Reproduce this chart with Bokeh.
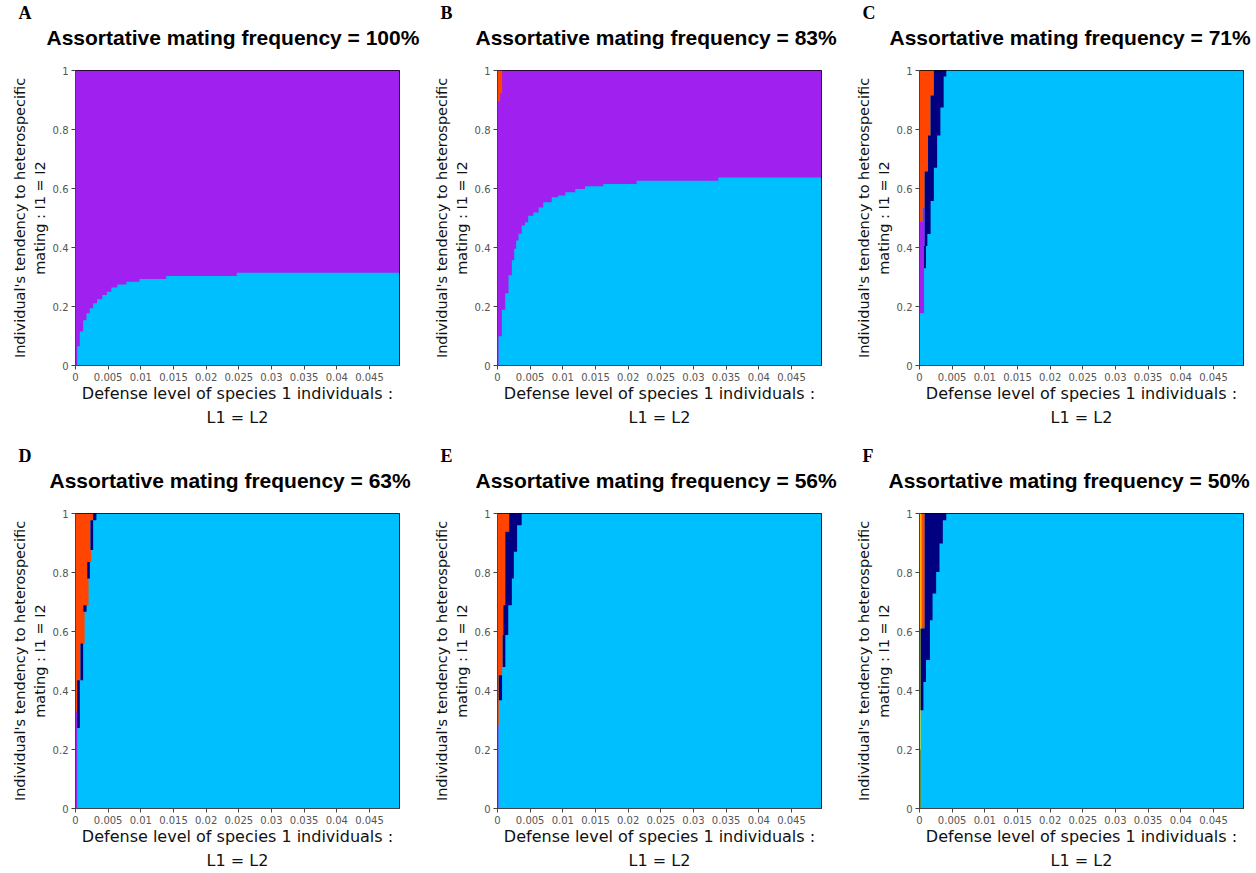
from bokeh.plotting import figure
from bokeh.models import Range1d, FixedTicker, Title
from bokeh.layouts import column, row
from bokeh.embed import file_html
from bokeh.resources import INLINE

# ---------------- data ----------------
X_MAX = 0.0496
X_TICKS = [0, 0.005, 0.01, 0.015, 0.02, 0.025, 0.03, 0.035, 0.04, 0.045]
X_TICK_LABELS = ["0", "0.005", "0.01", "0.015", "0.02", "0.025", "0.03", "0.035", "0.04", "0.045"]
Y_TICKS = [0, 0.2, 0.4, 0.6, 0.8, 1]
Y_TICK_LABELS = ["0", "0.2", "0.4", "0.6", "0.8", "1"]

LETTERS = ["A", "B", "C", "D", "E", "F"]
FREQS = [100, 83, 71, 63, 56, 50]

COLORS = {
    "blue": "#00BFFF", "purple": "#A020F0", "orange": "#FF4500", "navy": "#000080",
    "gold": "#FFB000", "olive": "#8C9A18", "yellowgreen": "#B0F040", "darkgreen": "#3C6E14",
}

# Panel A (column based): column x edges, top of the blue (lower) region per column
A_x = [0, 0.00026, 0.00066, 0.00117, 0.00168, 0.00219, 0.0027, 0.0033, 0.0041, 0.0048,
       0.0055, 0.0064, 0.0078, 0.0098, 0.0139, 0.0247, 0.0496]
A_blue_top = [0, 0.065, 0.115, 0.153, 0.177, 0.194, 0.211, 0.225, 0.239, 0.25,
              0.264, 0.275, 0.284, 0.293, 0.303, 0.314]

# Panel B (column based)
B_x = [0, 0.00016, 0.00067, 0.00118, 0.00169, 0.0022, 0.00256, 0.00286, 0.00322, 0.0037,
       0.0042, 0.0047, 0.0055, 0.0063, 0.0070, 0.0083, 0.0093, 0.0104, 0.0119, 0.0134,
       0.0162, 0.0213, 0.0338, 0.0496]
B_blue_top = [0, 0.099, 0.189, 0.245, 0.306, 0.357, 0.396, 0.424, 0.447, 0.475,
              0.486, 0.508, 0.519, 0.536, 0.553, 0.570, 0.576, 0.587, 0.598, 0.608,
              0.615, 0.626, 0.637]
B_orange_x = [0, 0.0004, 0.00072]
B_orange_bottom = [0.896, 0.924]

# Panels C-F (row based): y band edges, cumulative right edge of each state
C_y = [0, 0.177, 0.33, 0.405, 0.446, 0.487, 0.535, 0.558, 0.658, 0.67, 0.78, 0.875, 0.915, 0.98, 1.0]
C_orange_r = [0, 0, 0, 0, 0, 0.0005, 0.0008, 0.0008, 0.0013, 0.0013, 0.0017, 0.0017, 0.0022, 0.0022]
C_purple_r = [0, 0.0007, 0.0007, 0.0008, 0.0008, 0.0008, 0.0008, 0.0008, 0.0013, 0.0013, 0.0017, 0.0017, 0.0022, 0.0022]
C_navy_r = [0, 0.0007, 0.001, 0.0012, 0.0017, 0.0017, 0.0017, 0.0022, 0.0022, 0.0027, 0.0032, 0.0037, 0.0037, 0.0041]

D_y = [0, 0.273, 0.328, 0.435, 0.559, 0.667, 0.689, 0.78, 0.836, 0.876, 0.977, 1.0]
D_orange_r = [0, 0, 0.00026, 0.00077, 0.0014, 0.0012, 0.002, 0.0018, 0.0024, 0.0023, 0.0027]
D_purple_r = [0.00026, 0.00026, 0.00026, 0.00077, 0.0014, 0.0012, 0.002, 0.0018, 0.0024, 0.0023, 0.0027]
D_navy_r = [0.00026, 0.00066, 0.00066, 0.00117, 0.0014, 0.0017, 0.002, 0.0022, 0.0024, 0.0027, 0.0032]

E_y = [0, 0.282, 0.367, 0.452, 0.48, 0.588, 0.689, 0.78, 0.87, 0.938, 0.96, 1.0]
E_orange_r = [0, 0.0002, 0.0002, 0.0007, 0.0008, 0.0009, 0.0012, 0.0012, 0.0012, 0.0018, 0.0018]
E_purple_r = [0.00015, 0.0002, 0.0002, 0.0007, 0.0008, 0.0009, 0.0012, 0.0012, 0.0012, 0.0018, 0.0018]
E_navy_r = [0.00015, 0.0002, 0.0007, 0.0007, 0.0012, 0.00165, 0.0022, 0.0025, 0.003, 0.003, 0.0037]

F_y = [0, 0.2, 0.333, 0.429, 0.503, 0.61, 0.638, 0.729, 0.802, 0.898, 0.977, 1.0]
F_strip_r = [0.00015, 0.00015, 0.00015, 0.00015, 0.00015, 0.0003, 0.0003, 0.0003, 0.0003, 0.0003, 0.0003]
F_strip_state = ["darkgreen", "yellowgreen", "olive", "olive", "olive", "gold", "gold", "gold", "gold", "gold", "gold"]
F_orange_r = [0.00015, 0.00015, 0.00015, 0.00015, 0.00015, 0.0008, 0.0008, 0.0008, 0.0008, 0.0008, 0.0008]
F_purple_r = [0.00015, 0.00015, 0.00015, 0.00015, 0.00015, 0.0008, 0.0008, 0.0008, 0.0008, 0.0008, 0.0008]
F_navy_r = [0.00015, 0.00015, 0.0006, 0.001, 0.0016, 0.0016, 0.002, 0.00255, 0.00306, 0.00357, 0.0041]

X_LABEL = "Defense level of species 1 individuals :\nL1 = L2"
Y_LABEL = "Individual's tendency to heterospecific\nmating : I1 = I2"

# ---------------- layout constants ----------------
BORDER_L, BORDER_T = 75, 69


# ---------------- helpers ----------------
def row_polygon(y, left, right):
    xs, ys = [], []
    for i in range(len(right)):
        xs += [right[i], right[i]]
        ys += [y[i], y[i + 1]]
    for i in reversed(range(len(right))):
        xs += [left[i], left[i]]
        ys += [y[i + 1], y[i]]
    return xs, ys


def col_polygon(x, bottom, top):
    xs, ys = [], []
    for i in range(len(top)):
        xs += [x[i], x[i + 1]]
        ys += [top[i], top[i]]
    for i in reversed(range(len(top))):
        xs += [x[i + 1], x[i]]
        ys += [bottom[i], bottom[i]]
    return xs, ys


def draw_columns(p, x, blue_top):
    n = len(blue_top)
    xs, ys = col_polygon(x, [0] * n, blue_top)
    p.patch(xs, ys, fill_color=COLORS["blue"], line_color=None)
    xs, ys = col_polygon(x, blue_top, [1] * n)
    p.patch(xs, ys, fill_color=COLORS["purple"], line_color=None)


def draw_rows(p, y, layers):
    n = len(y) - 1
    last = layers[-1][0]
    xs, ys = row_polygon(y, last, [X_MAX] * n)
    p.patch(xs, ys, fill_color=COLORS["blue"], line_color=None)
    left = [0] * n
    for right, cname in layers:
        xs, ys = row_polygon(y, left, right)
        p.patch(xs, ys, fill_color=COLORS[cname], line_color=None)
        left = right


def make_fig(i, width, height, b_bottom, b_right, title_offset):
    p = figure(width=width, height=height,
               x_range=Range1d(0, X_MAX), y_range=Range1d(0, 1),
               output_backend="svg", toolbar_location=None,
               min_border_left=BORDER_L, min_border_right=b_right,
               min_border_top=BORDER_T, min_border_bottom=b_bottom)
    p.background_fill_color = COLORS["blue"]
    p.border_fill_color = "white"
    p.grid.visible = False
    p.outline_line_color = "black"
    p.outline_line_width = 1

    for ax, ticks, labels in ((p.xaxis[0], X_TICKS, X_TICK_LABELS), (p.yaxis[0], Y_TICKS, Y_TICK_LABELS)):
        ax.ticker = FixedTicker(ticks=ticks)
        ax.major_label_overrides = {t: l for t, l in zip(ticks, labels)}
        ax.minor_tick_line_color = None
        ax.major_tick_in = 0
        ax.major_tick_out = 4
        ax.major_tick_line_color = "#444444"
        ax.axis_line_color = "#444444"
        ax.major_label_text_font = "DejaVu Sans"
        ax.major_label_text_font_size = "10px"
        ax.major_label_text_color = "#555555"
        ax.major_label_standoff = 3
        ax.axis_label_text_font = "DejaVu Sans"
        ax.axis_label_text_font_style = "normal"
        ax.axis_label_text_color = "#111111"
    p.xaxis.axis_label = X_LABEL
    p.xaxis.axis_label_text_font_size = "16px"
    p.xaxis.axis_label_text_line_height = 1.3
    p.xaxis.axis_label_standoff = 0
    p.yaxis.axis_label = Y_LABEL
    p.yaxis.axis_label_text_font_size = "14.5px"
    p.yaxis.axis_label_text_line_height = 1.2
    p.yaxis.axis_label_standoff = 2

    # outermost: panel letter
    p.title.text = LETTERS[i]
    p.title.text_font = "Liberation Serif"
    p.title.text_font_style = "bold"
    p.title.text_font_size = "18px"
    p.title.text_color = "black"
    p.title.align = "left"
    p.title.offset = 18 - BORDER_L
    p.title.vertical_align = "bottom"
    p.title.standoff = 0

    # closest to frame: an empty spacer, then the panel title
    p.add_layout(Title(text=" ", text_font_size="10px", standoff=8), "above")
    p.add_layout(Title(text="Assortative mating frequency = %d%%" % FREQS[i],
                       text_font="Liberation Sans", text_font_style="bold",
                       text_font_size="21px", text_color="black",
                       align="left", offset=title_offset, vertical_align="bottom",
                       standoff=2), "above")
    return p


ROW1_H, ROW2_H = 443, 430
pA = make_fig(0, 422, ROW1_H, 78, 23, -29)
draw_columns(pA, A_x, A_blue_top)

pB = make_fig(1, 422, ROW1_H, 78, 23, -22)
draw_columns(pB, B_x, B_blue_top)
xs, ys = col_polygon(B_orange_x, B_orange_bottom, [1] * len(B_orange_bottom))
pB.patch(xs, ys, fill_color=COLORS["orange"], line_color=None)

pC = make_fig(2, 412, ROW1_H, 78, 13, -30)
draw_rows(pC, C_y, [(C_orange_r, "orange"), (C_purple_r, "purple"), (C_navy_r, "navy")])

pD = make_fig(3, 422, ROW2_H, 65, 23, -26)
draw_rows(pD, D_y, [(D_orange_r, "orange"), (D_purple_r, "purple"), (D_navy_r, "navy")])

pE = make_fig(4, 422, ROW2_H, 65, 23, -22)
draw_rows(pE, E_y, [(E_orange_r, "orange"), (E_purple_r, "purple"), (E_navy_r, "navy")])

pF = make_fig(5, 412, ROW2_H, 65, 13, -31)
draw_rows(pF, F_y, [(F_strip_r, "gold"), (F_orange_r, "orange"), (F_purple_r, "purple"), (F_navy_r, "navy")])
pF.quad(left=[0] * len(F_strip_r), right=F_strip_r, bottom=F_y[:-1], top=F_y[1:],
        fill_color=[COLORS[s] for s in F_strip_state], line_color=None)

layout = column(row(pA, pB, pC), row(pD, pE, pF))
open("out.html", "w").write(file_html(layout, INLINE))
